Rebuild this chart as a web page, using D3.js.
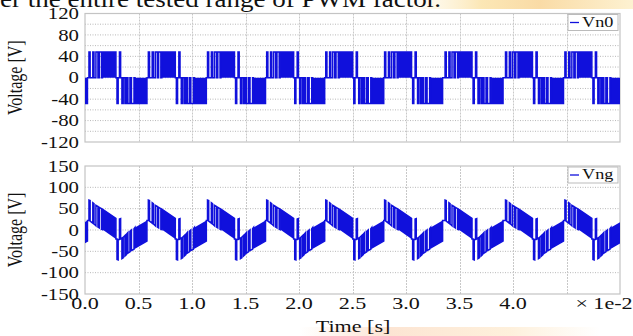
<!DOCTYPE html>
<html><head><meta charset="utf-8">
<script src="https://cdn.jsdelivr.net/npm/d3@7"></script>
<style>body{margin:0;background:#fff;} svg{display:block;}</style>
</head><body>
<svg id="c" width="633" height="336"></svg>
<script>
// ---------------- data (time in units of 1e-2 s) ----------------
const xTicks = [0.0, 0.5, 1.0, 1.5, 2.0, 2.5, 3.0, 3.5, 4.0];
const xTickLabels = ["0.0", "0.5", "1.0", "1.5", "2.0", "2.5", "3.0", "3.5", "4.0"];
const xGridLines = [0.5, 1.0, 1.5, 2.0, 2.5, 3.0, 3.5, 4.0, 4.5];
const topTicks = [-120, -80, -40, 0, 40, 80, 120];
const topGridLines = [-100, -80, -60, -40, -20, 0, 20, 40, 60, 80, 100];
const botTicks = [-150, -100, -50, 0, 50, 100, 150];
const botGridLines = [-100, -50, 0, 50, 100];

// start time of each switching period
const periodStarts = [-0.519, 0.037, 0.592, 1.145, 1.698, 2.250, 2.800, 3.365, 3.930, 4.485];

// switching pattern of one period (relative times), Vn0 level of each pulse,
// Vng base (value when Vn0 = 0) at pulse start / end, dense (solid) blocks flagged
const pulseStart = [0.000, 0.036, 0.065, 0.096, 0.126, 0.262, 0.285, 0.308, 0.336, 0.364, 0.397, 0.430];
const pulseEnd   = [0.011, 0.047, 0.084, 0.117, 0.252, 0.273, 0.296, 0.320, 0.350, 0.383, 0.421, 0.542];
const pulseLevel = [48, 48, 48, 48, 48, -48, 48, -48, -48, -48, -48, -48];
const vngBaseStart = [22, 16, 10, 5, 1, -21, -22, -19, -13, -6, 0, 6];
const vngBaseEnd   = [21, 14, 7, 2, -21, -22, -21, -17, -10, -3, 3, 22];
const pulseDense = [0, 0, 0, 0, 1, 0, 0, 0, 0, 0, 0, 1];

const seriesNames = ["Vn0", "Vng"];

// ---------------- drawing ----------------
const svg = d3.select("#c");
const FONT = "'Liberation Serif','Times New Roman',serif";
const BLUE = "#1010dc";
const SX = 1.3;

// watermark tints
const defs = svg.append("defs");
const g1 = defs.append("linearGradient").attr("id", "wm1").attr("x1", "0").attr("x2", "1").attr("y1", "0").attr("y2", "0");
g1.append("stop").attr("offset", "0").attr("stop-color", "#fdf3d6").attr("stop-opacity", 0);
g1.append("stop").attr("offset", "0.35").attr("stop-color", "#fbe4ad").attr("stop-opacity", 0.9);
g1.append("stop").attr("offset", "0.6").attr("stop-color", "#f9d79c").attr("stop-opacity", 0.9);
g1.append("stop").attr("offset", "1").attr("stop-color", "#fdf0cc").attr("stop-opacity", 0.9);
svg.append("rect").attr("x", 400).attr("y", 0).attr("width", 233).attr("height", 9).attr("fill", "url(#wm1)");
const g2 = defs.append("linearGradient").attr("id", "wm2").attr("x1", "0").attr("x2", "1");
g2.append("stop").attr("offset", "0").attr("stop-color", "#fbd9c0").attr("stop-opacity", 0);
g2.append("stop").attr("offset", "0.3").attr("stop-color", "#fbd9c0").attr("stop-opacity", 0.7);
g2.append("stop").attr("offset", "0.7").attr("stop-color", "#fde6c4").attr("stop-opacity", 0.6);
g2.append("stop").attr("offset", "1").attr("stop-color", "#fde6c4").attr("stop-opacity", 0);
svg.append("rect").attr("x", 300).attr("y", 327).attr("width", 300).attr("height", 9).attr("fill", "url(#wm2)");

// cropped caption text at top
svg.append("text").attr("x", 0).attr("y", 6.5)
  .attr("font-family", FONT).attr("font-size", 24).attr("fill", "#111")
  .attr("textLength", 441).attr("lengthAdjust", "spacingAndGlyphs")
  .text("er the entire tested range of PWM factor.");

const x = d3.scaleLinear().domain([0, 5]).range([85, 620]);
const yTop = d3.scaleLinear().domain([-120, 120]).range([142, 13.5]);
const yBot = d3.scaleLinear().domain([-150, 150]).range([294, 166]);

function sText(parent, px, py, str, anchor, size, rot) {
  const g = parent.append("g").attr("transform", `translate(${px},${py}) scale(${SX},1)` + (rot ? ` rotate(${rot})` : ""));
  return g.append("text").attr("text-anchor", anchor).attr("dominant-baseline", "central")
    .attr("font-family", FONT).attr("font-size", size).attr("fill", "#111").text(str);
}

function panel(y, ticks, grid, name, key, clipId) {
  const [y0, y1] = y.range();
  const g = svg.append("g");
  g.selectAll(".hg").data(grid).join("line")
    .attr("x1", x(0)).attr("x2", x(5)).attr("y1", d => y(d)).attr("y2", d => y(d))
    .attr("stroke", "#b8b8b8").attr("stroke-width", 1).attr("stroke-dasharray", "1,1.5");
  g.selectAll(".vg").data(xGridLines).join("line")
    .attr("x1", d => Math.round(x(d)) + 0.5).attr("x2", d => Math.round(x(d)) + 0.5).attr("y1", y1).attr("y2", y0)
    .attr("stroke", "#c8c8c8").attr("stroke-width", 1).attr("stroke-dasharray", "2,1");
  g.append("rect").attr("x", x(0)).attr("y", y1).attr("width", x(5) - x(0)).attr("height", y0 - y1)
    .attr("fill", "none").attr("stroke", "#c4c4c4").attr("stroke-width", 1.2);
  ticks.forEach(t => sText(svg, 79, y(t), String(t), "end", 16));
  defs.append("clipPath").attr("id", clipId).append("rect")
    .attr("x", x(0)).attr("y", y1).attr("width", x(5) - x(0)).attr("height", y0 - y1);
  const pts = [];
  const dense = [];
  periodStarts.forEach(p => {
    pulseStart.forEach((s, i) => {
      const t0 = p + s, t1 = p + pulseEnd[i], L = pulseLevel[i];
      const b0 = key === "vng" ? vngBaseStart[i] : 0;
      const b1 = key === "vng" ? vngBaseEnd[i] : 0;
      pts.push([t0, b0], [t0, b0 + L], [t1, b1 + L], [t1, b1]);
      if (pulseDense[i]) dense.push([[t0, b0], [t0, b0 + L], [t1, b1 + L], [t1, b1]]);
    });
  });
  const wg = g.append("g").attr("clip-path", `url(#${clipId})`);
  wg.selectAll(".dense").data(dense).join("path")
    .attr("d", d => "M" + d.map(q => `${x(q[0])},${y(q[1])}`).join("L") + "Z")
    .attr("fill", BLUE).attr("stroke", "none");
  const line = d3.line().x(d => x(d[0])).y(d => y(d[1]));
  wg.append("path").attr("d", line(pts)).attr("fill", "none").attr("stroke", BLUE).attr("stroke-width", 1.5);
  const lg = svg.append("g");
  lg.append("rect").attr("x", 568).attr("y", y1 + 1).attr("width", 50).attr("height", 16)
    .attr("fill", "#fff").attr("stroke", "#bbb").attr("stroke-width", 1);
  lg.append("line").attr("x1", 570).attr("x2", 579).attr("y1", y1 + 9).attr("y2", y1 + 9)
    .attr("stroke", BLUE).attr("stroke-width", 1.3);
  sText(lg, 582, y1 + 9, name, "start", 14);
  sText(svg, 15, (y0 + y1) / 2, "Voltage [V]", "middle", 16, -90);
}

panel(yTop, topTicks, topGridLines, seriesNames[0], "vn0", "clipTop");
panel(yBot, botTicks, botGridLines, seriesNames[1], "vng", "clipBot");

xTicks.forEach((t, i) => sText(svg, x(t), 303, xTickLabels[i], "middle", 17));
sText(svg, 604, 303, "\u00d7 1e-2", "middle", 17);
sText(svg, 353, 326, "Time [s]", "middle", 17);
</script>
</body></html>
